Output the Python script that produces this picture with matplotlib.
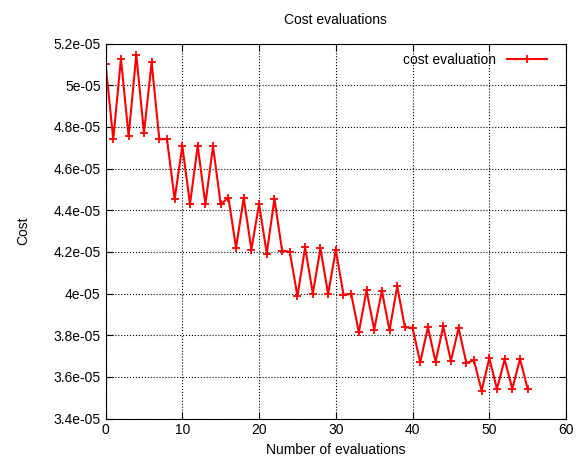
import matplotlib
matplotlib.use("Agg")
import matplotlib.pyplot as plt
from matplotlib.ticker import FuncFormatter, MultipleLocator

plt.rcParams['font.family'] = ['Liberation Sans', 'DejaVu Sans']

evaluations = list(range(56))
cost = [5.100, 4.740, 5.128, 4.755, 5.147, 4.771, 5.109, 4.741, 4.741, 4.453,
        4.709, 4.429, 4.709, 4.429, 4.707, 4.428, 4.461, 4.219, 4.459, 4.211,
        4.430, 4.192, 4.454, 4.206, 4.201, 3.987, 4.222, 4.000, 4.217, 3.997,
        4.210, 3.994, 3.999, 3.814, 4.016, 3.827, 4.013, 3.823, 4.035, 3.838,
        3.835, 3.670, 3.838, 3.673, 3.843, 3.676, 3.835, 3.668, 3.679, 3.534,
        3.689, 3.542, 3.684, 3.542, 3.686, 3.542]
cost = [c * 1e-5 for c in cost]

fig = plt.figure(figsize=(5.77, 4.73), dpi=100)
ax = fig.add_axes([0.183, 0.115, 0.798, 0.793])

ax.plot(evaluations, cost, color='red', linewidth=1.5, marker='+',
        markersize=6, markeredgewidth=1.3, label='cost evaluation')

ax.set_xlim(0, 60)
ax.set_ylim(3.4e-05, 5.2e-05)
ax.xaxis.set_major_locator(MultipleLocator(10))
ax.yaxis.set_major_locator(MultipleLocator(0.2e-05))
ax.yaxis.set_major_formatter(FuncFormatter(lambda v, p: '%g' % round(v, 8)))
ax.tick_params(direction='in', top=True, right=True, length=5, labelsize=10)
ax.grid(True, color='black', linestyle=':', linewidth=0.8)

ax.set_title('Cost evaluations', fontsize=10, pad=14)
ax.set_xlabel('Number of evaluations', fontsize=10)
ax.set_ylabel('Cost', fontsize=10, labelpad=17)

ax.legend(loc='upper right', frameon=False, markerfirst=False, fontsize=10,
          handlelength=2.9, borderaxespad=0.3, bbox_to_anchor=(0.98, 1.0))

fig.savefig('out.png', dpi=100)
